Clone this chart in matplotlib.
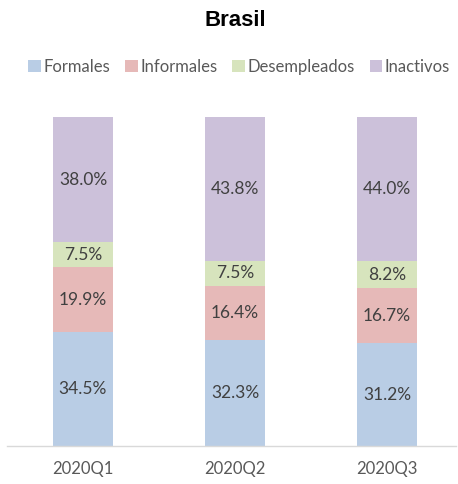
import numpy as np
import matplotlib.pyplot as plt
from matplotlib.patches import Patch

# ---------- Data ----------
periods = ["2020Q1", "2020Q2", "2020Q3"]
series_names = ["Formales", "Informales", "Desempleados", "Inactivos"]
formales = [34.5, 32.3, 31.2]
informales = [19.9, 16.4, 16.7]
desempleados = [7.5, 7.5, 8.2]
inactivos = [38.0, 43.8, 44.0]
colors = ["#B9CDE5", "#E6B9B8", "#D7E4BD", "#CCC1DA"]

series = [formales, informales, desempleados, inactivos]

plt.rcParams['font.family'] = ['Lato', 'DejaVu Sans']

fig = plt.figure(figsize=(4.58, 4.84), dpi=100)
ax = fig.add_axes([7 / 458, 38 / 484, 449 / 458, 329 / 484])

x = np.arange(len(periods))
bottom = np.zeros(len(periods))
for vals, col in zip(series, colors):
    vals = np.array(vals)
    ax.bar(x, vals, width=0.395, bottom=bottom, color=col, clip_on=False)
    for xi, b, v in zip(x, bottom, vals):
        ax.text(xi, b + v / 2, f"{v:.1f}%", ha='center', va='center',
                fontsize=12.5, color='#404040')
    bottom += vals

ax.set_xlim(-0.5, 2.454)
ax.set_ylim(0, 100)
for side in ['top', 'right', 'left']:
    ax.spines[side].set_visible(False)
ax.spines['bottom'].set_color('#D9D9D9')
ax.spines['bottom'].set_linewidth(1.0)
ax.set_yticks([])
ax.set_xticks(x)
ax.set_xticklabels(periods, fontsize=12, color='#595959')
ax.tick_params(axis='x', length=0, pad=11)

fig.text(0.513, 1 - 20 / 484, "Brasil", ha='center', va='center',
         fontsize=16, fontweight='bold', family='Liberation Sans')

handles = [Patch(facecolor=c, edgecolor='none') for c in colors]
fig.legend(handles, series_names, loc='center', ncol=4,
           bbox_to_anchor=(0.522, 1 - 67 / 484), frameon=False,
           fontsize=12, handlelength=0.75, handleheight=0.75,
           handletextpad=0.15, columnspacing=0.9, labelcolor='#595959')

fig.savefig("out.png", dpi=100)
